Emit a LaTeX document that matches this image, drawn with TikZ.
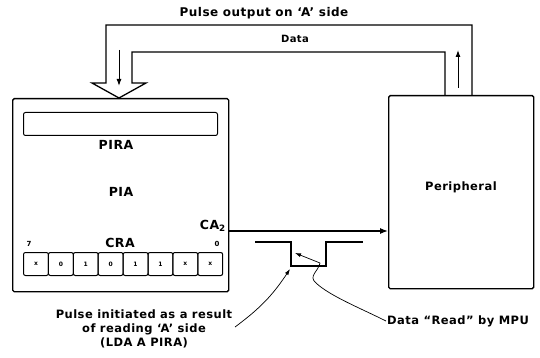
\documentclass[tikz,border=0pt]{standalone}
\usepackage{fontspec}
\setmainfont[LetterSpace=4]{DejaVu Sans}
\usetikzlibrary{arrows.meta}
\tikzset{
  blk/.style={draw, line width=1.4pt, rounded corners=1.5pt, inner sep=0pt, anchor=north west},
  reg/.style={draw, line width=1pt, rounded corners=2pt, inner sep=0pt, anchor=north west},
  lbl/.style={font=\bfseries\fontsize{11.5}{14}\selectfont},
  big lbl/.style={font=\bfseries\fontsize{12.5}{15}\selectfont},
  tiny lbl/.style={font=\bfseries\fontsize{6}{7}\selectfont},
  note/.style={-{Latex[length=6pt,width=4pt]}, line width=0.7pt},
}
\begin{document}
\begin{tikzpicture}[x=1pt,y=-1pt]
\useasboundingbox (0,0) rectangle (540,358);

% the two blocks
\node[blk, minimum width=216pt, minimum height=193pt] (pia) at (12,98) {};
\node[blk, minimum width=145pt, minimum height=193pt] (per) at (388,95) {};
\node[lbl] (perlbl) at (461,187) {Peripheral};

% inside the PIA
\node[reg, minimum width=194pt, minimum height=23pt] (pira) at (23,112) {};
\node[big lbl] (piralbl) at (116,145) {PIRA};
\node[big lbl] (pialbl) at (121,192) {PIA};
\node[big lbl] (cralbl) at (120,243) {CRA};
\node[tiny lbl, font=\bfseries\fontsize{7}{8}\selectfont] (msb) at (29,244) {7};
\node[tiny lbl, font=\bfseries\fontsize{7}{8}\selectfont] (lsb) at (217,244) {0};
\foreach \b [count=\i from 0] in {x,0,1,0,1,1,x,x}
  \node[reg, tiny lbl, minimum width=24.9pt, minimum height=23pt] (bit\i) at ({23+24.9*\i},252) {\b};
\node[big lbl, anchor=south east, inner sep=1pt] (ca2) at (227,233) {CA\textsubscript{2}};

% CA2 output line
\coordinate (caout) at (228,231);
\draw[line width=1.3pt, -{Latex[length=8pt,width=6pt]}] (caout) -- (caout -| per.west);

% data pipe between the blocks
\draw[line width=1.3pt, line join=miter] (472,95) -- (472,25) -- (106,25) -- (106,83) -- (92,83)
  -- (119,98) -- (146,83) -- (132,83) -- (132,52) -- (445,52) -- (445,95);
\draw[line width=1pt, -{Latex[length=7pt,width=5pt]}] (119,50) -- (119,86);
\draw[line width=1pt, -{Latex[length=7pt,width=5pt]}] (458,88) -- (458,50);
\node[lbl, font=\bfseries\fontsize{12}{14}\selectfont] (title) at (264,13) {Pulse output on ‘A’ side};
\node[lbl, font=\bfseries\fontsize{10}{12}\selectfont] (datalbl) at (295,39) {Data};

% pulse on CA2
\draw[line width=2.4pt] (255,242) -- (291,242) -- (291,266) -- (326,266) -- (326,242) -- (363,242);
\coordinate (pulsedn) at (290,269);
\coordinate (pulseread) at (295,253);
\coordinate (readfrom) at (320,263);

% notes
\node[lbl, align=center] (initnote) at (144,329) {Pulse initiated as a result\\of reading ‘A’ side\\(LDA A PIRA)};
\node[lbl, anchor=west, inner sep=1pt] (readnote) at (386,321) {Data “Read” by MPU};
\coordinate (initfrom) at (235,327);
\draw[note] (initfrom) to[bend right=10] (pulsedn);
\draw[note] (readfrom) -- (pulseread);
\draw[line width=0.7pt] (readfrom) .. controls (318,272) and (308,276) .. (316,283)
  .. controls (330,296) and (360,308) .. (readnote.west);
\end{tikzpicture}
\end{document}
